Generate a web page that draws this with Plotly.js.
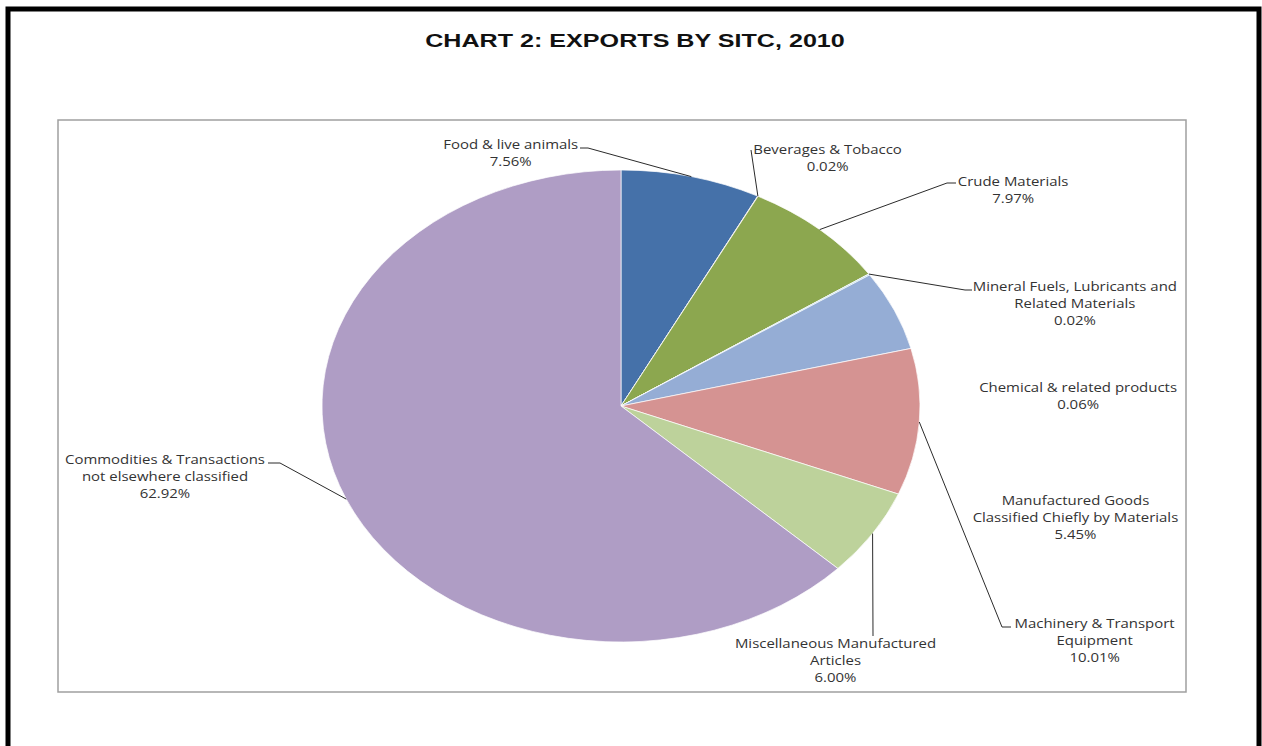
<!DOCTYPE html>
<html>
<head>
<meta charset="utf-8">
<script src="https://cdn.plot.ly/plotly-3.0.1.min.js"></script>
<style>
  html, body { margin: 0; padding: 0; background: #ffffff; }
  #chart { width: 1262px; height: 746px; }
</style>
</head>
<body>
<div id="chart"></div>
<script>
// ---- Data ----
const categories = [
  "Food & live animals",
  "Beverages & Tobacco",
  "Crude Materials",
  "Mineral Fuels, Lubricants and Related Materials",
  "Chemical & related products",
  "Manufactured Goods Classified Chiefly by Materials",
  "Machinery & Transport Equipment",
  "Miscellaneous Manufactured Articles",
  "Commodities & Transactions not elsewhere classified"
];
const shares = [7.56, 0.02, 7.97, 0.02, 0.06, 5.45, 10.01, 6.00, 62.92];
const labelLines = [
  "Food & live animals",
  "Beverages & Tobacco",
  "Crude Materials",
  "Mineral Fuels, Lubricants and<br>Related Materials",
  "Chemical & related products",
  "Manufactured Goods<br>Classified Chiefly by Materials",
  "Machinery & Transport<br>Equipment",
  "Miscellaneous Manufactured<br>Articles",
  "Commodities & Transactions<br>not elsewhere classified"
];
const sliceColors = ["#4571A9", "#C0504D", "#8CA74F", "#8064A2", "#4BACC6",
                     "#95ADD5", "#D59392", "#BDD29B", "#AF9DC5"];
const chartTitle = "CHART 2: EXPORTS BY SITC, 2010";

// ---- Layout geometry (pixels) ----
const W = 1262, H = 746;
const CX = 621, CY = 406, RX = 299, RY = 236;
const TITLE_CX = 635, TITLE_W = 420;
const LABEL_STRETCH = 1.15;
// label block centres
const labelPos = [[510,152],[827,157],[1013,189],[1075,303],[1078,395],
                  [1075,517],[1095,640],[835,660],[165,476]];
// label-side leader points (null = no leader line)
const leaderStart = [
  [[580,148],[588,148]],
  [[751,150]],
  [[956,183],[947,183]],
  [[972,290],[965,290]],
  null,
  null,
  [[1011,627],[1002,627]],
  [[873,636]],
  [[268,463],[280,463]]
];

const px = x => x / W;
const py = y => 1 - y / H;

// leader endpoints from slice mid-angles on the ellipse
const total = shares.reduce((a, b) => a + b, 0);
let cum = 0;
const midPts = shares.map(v => {
  const f = (cum + v / 2) / total;
  cum += v;
  const t = 2 * Math.PI * f;
  return [CX + RX * Math.sin(t), CY - RY * Math.cos(t)];
});

const shapes = [];
// outer black frame
shapes.push({type: 'path', xref: 'paper', yref: 'paper',
  path: `M ${px(8)},${py(800)} L ${px(8)},${py(9)} L ${px(1259)},${py(9)} L ${px(1259)},${py(800)}`,
  line: {color: '#000000', width: 5}});
// chart-area box
shapes.push({type: 'rect', xref: 'paper', yref: 'paper',
  x0: px(58), x1: px(1186), y0: py(692), y1: py(120),
  line: {color: '#a0a0a0', width: 1.5}, fillcolor: 'rgba(0,0,0,0)'});
// leader lines
leaderStart.forEach((pts, i) => {
  if (!pts) return;
  const all = pts.concat([midPts[i]]);
  const path = all.map((p, k) => (k === 0 ? 'M ' : 'L ') + px(p[0]) + ',' + py(p[1])).join(' ');
  shapes.push({type: 'path', xref: 'paper', yref: 'paper', path: path,
    line: {color: '#2b2b2b', width: 1}});
});

const annotations = labelLines.map((t, i) => ({
  xref: 'paper', yref: 'paper',
  x: px(labelPos[i][0]), y: py(labelPos[i][1]),
  xanchor: 'center', yanchor: 'middle', align: 'center',
  showarrow: false,
  text: t + '<br>' + shares[i].toFixed(2) + '%',
  font: {family: '"Open Sans", "Noto Sans", sans-serif', size: 13, color: '#333333'}
}));

const data = [{
  type: 'pie',
  labels: categories,
  values: shares,
  sort: false,
  direction: 'clockwise',
  rotation: 0,
  textinfo: 'none',
  hoverinfo: 'label+percent',
  showlegend: false,
  marker: {colors: sliceColors, line: {color: '#ffffff', width: 0.7}},
  domain: {x: [px(CX - RY), px(CX + RY)], y: [py(CY + RY), py(CY - RY)]}
}];

const layout = {
  width: W, height: H,
  margin: {l: 0, r: 0, t: 0, b: 0},
  paper_bgcolor: '#ffffff',
  plot_bgcolor: '#ffffff',
  title: {
    text: '<b>' + chartTitle + '</b>',
    x: px(TITLE_CX), y: 1 - 41 / H, xanchor: 'center', yanchor: 'middle',
    font: {family: '"Liberation Sans", Arial, sans-serif', size: 18.5, color: '#111111'}
  },
  shapes: shapes,
  annotations: annotations
};

function stretchX(el, k) {
  const b = el.getBBox();
  const c = b.x + b.width / 2;
  const prev = el.getAttribute('transform') || '';
  el.setAttribute('transform', `translate(${c},0) scale(${k},1) translate(${-c},0) ` + prev);
}

Plotly.newPlot('chart', data, layout, {staticPlot: true, displayModeBar: false}).then(gd => {
  // stretch the circular pie horizontally into the reference's ellipse
  gd.querySelectorAll('.pielayer g.trace').forEach(g => {
    const prev = g.getAttribute('transform') || '';
    g.setAttribute('transform', `translate(${CX},0) scale(${RX / RY},1) translate(${-CX},0) ` + prev);
  });
  gd.querySelectorAll('.pielayer path.surface').forEach(p => {
    p.setAttribute('vector-effect', 'non-scaling-stroke');
  });
  // the reference text is set wide: widen title and labels about their centres
  const t = gd.querySelector('.gtitle');
  if (t) {
    const w = t.getBBox().width;
    if (w > 0) stretchX(t, TITLE_W / w);
  }
  gd.querySelectorAll('.annotation text.annotation-text').forEach(el => stretchX(el, LABEL_STRETCH));
});
</script>
</body>
</html>
